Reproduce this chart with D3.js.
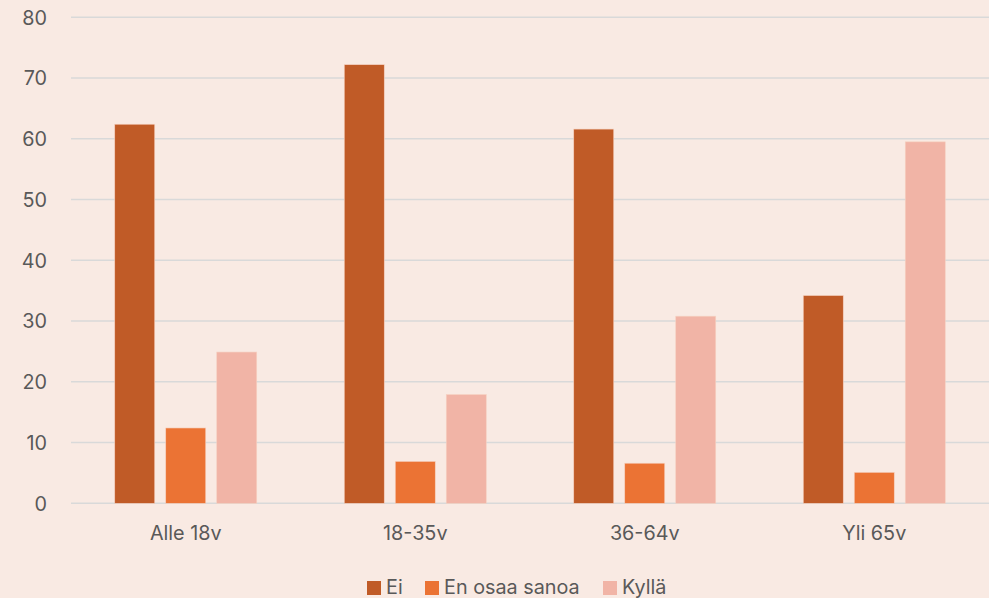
<!DOCTYPE html>
<html><head><meta charset="utf-8">
<script src="https://cdn.jsdelivr.net/npm/d3@7/dist/d3.min.js"></script>
<style>
html,body{margin:0;padding:0;background:#F9EAE3;}
svg{display:block;}
text{font-family:Inter,"Open Sans",sans-serif;fill:#595959;}
</style></head>
<body>
<svg id="chart" width="989" height="598"></svg>
<script>
const categories = ["Alle 18v","18-35v","36-64v","Yli 65v"];
const seriesNames = ["Ei","En osaa sanoa","Kyllä"];
const ei = [62.4, 72.2, 61.6, 34.2];
const enOsaa = [12.4, 6.9, 6.6, 5.1];
const kylla = [24.9, 17.9, 30.8, 59.5];
const yTicks = [0,10,20,30,40,50,60,70,80];
const colors = ["#C05B27","#EB7334","#F1B4A6"];

(function(){
const seriesValues = [ei, enOsaa, kylla];
const svg = d3.select("#chart");
const W = 989, H = 598;
const mLeft = 71, mRight = 989, mTop = 17.3, mBottom = 503.3;
const FS = "19.8px";
const FF = "Inter, 'Open Sans', sans-serif";

svg.append("rect").attr("width",W).attr("height",H).attr("fill","#F9EAE3");

const x0 = d3.scaleBand().domain(categories).range([mLeft,mRight]).padding(0);
const groupW = 142;
const x1 = d3.scaleBand().domain(seriesNames).range([0,groupW]).paddingInner(11/51).paddingOuter(0);
const y = d3.scaleLinear().domain([0,80]).range([mBottom,mTop]);

svg.append("g").selectAll("line").data(yTicks).join("line")
  .attr("x1",mLeft).attr("x2",mRight)
  .attr("y1",d=>y(d)).attr("y2",d=>y(d))
  .attr("stroke","#D9D9D9").attr("stroke-width",1.5);

const yAxis = d3.axisLeft(y).tickValues(yTicks).tickSize(0).tickPadding(0);
const gy = svg.append("g").attr("transform",`translate(47,0)`).call(yAxis);
gy.select(".domain").remove();
gy.selectAll("text").style("font-size",FS).style("font-family",FF).attr("fill","#595959").attr("dy","0.35em");

const data = [];
categories.forEach((c,i)=>seriesNames.forEach((s,j)=>data.push({c,s,j,v:seriesValues[j][i]})));
svg.append("g").selectAll("rect").data(data).join("rect")
  .attr("x",d=>x0(d.c)+x0.bandwidth()/2-groupW/2+x1(d.s))
  .attr("width",x1.bandwidth())
  .attr("y",d=>y(d.v))
  .attr("height",d=>y(0)-y(d.v))
  .attr("fill",d=>colors[d.j])
  .attr("stroke","#F6D2C2").attr("stroke-width",0.6);

const xAxis = d3.axisBottom(x0).tickSize(0).tickPadding(0);
const gx = svg.append("g").attr("transform",`translate(0,540)`).call(xAxis);
gx.select(".domain").remove();
gx.selectAll("text").style("font-size",FS).style("font-family",FF).attr("fill","#595959").attr("dy","0");

const legendItems = [{x:367,tx:386},{x:425,tx:444},{x:603,tx:622}];
const lg = svg.append("g");
seriesNames.forEach((s,i)=>{
  lg.append("rect").attr("x",legendItems[i].x).attr("y",581).attr("width",14).attr("height",14).attr("fill",colors[i]);
  lg.append("text").attr("x",legendItems[i].tx).attr("y",594).style("font-size",FS).style("font-family",FF).text(s);
});
})();
</script>
</body></html>
